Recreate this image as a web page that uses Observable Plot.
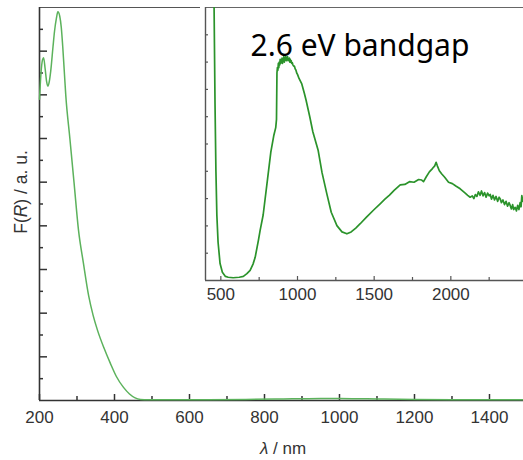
<!DOCTYPE html>
<html>
<head>
<meta charset="utf-8">
<script src="https://cdn.jsdelivr.net/npm/d3@7"></script>
<script src="https://cdn.jsdelivr.net/npm/@observablehq/plot@0.6"></script>
<style>
  html, body { margin: 0; padding: 0; background: white; }
  #wrap { position: relative; width: 523px; height: 460px; overflow: hidden; background: white; }
  #inset { position: absolute; left: 200px; top: 0px; width: 342px; }
  #wrap svg { max-width: none !important; }
</style>
</head>
<body>
<div id="wrap"><div id="main"></div><div id="inset"></div></div>
<script>
// ---------- Main spectrum (F(R) vs wavelength, 200–1490 nm) ----------
const mainWl = [200, 204, 208, 211, 215, 219, 222, 226, 230, 236, 240, 245, 249, 254, 258, 262, 266, 270,
  281, 292, 304, 317, 331, 343, 355, 372, 389, 405, 424, 440, 455, 469, 490, 550, 650, 750, 850, 900,
  950, 1000, 1050, 1100, 1200, 1300, 1400, 1490];
const mainF = [13.8, 15.0, 15.6, 15.7, 15.2, 14.6, 14.4, 14.6, 15.1, 16.2, 16.9, 17.5, 17.8, 17.6, 17.1, 16.2, 15.1, 14.0,
  12.0, 10.0, 7.8, 6.3, 4.8, 3.9, 3.2, 2.4, 1.7, 1.1, 0.6, 0.3, 0.12, 0.05, 0.03, 0.03, 0.04, 0.05, 0.07, 0.08,
  0.09, 0.09, 0.08, 0.07, 0.05, 0.04, 0.04, 0.04];

const mainXMajor = [200, 400, 600, 800, 1000, 1200, 1400];
const mainXMinor = [300, 500, 700, 900, 1100, 1300];
const mainYMajor = [2, 4, 6, 8, 10, 12, 14, 16];
const mainYMinor = [1, 3, 5, 7, 9, 11, 13, 15, 17];
const mainXDomain = [200, 1490.7];
const mainYDomain = [0, 18];

// ---------- Inset spectrum (400–2500 nm) ----------
const insetWl = [440, 452, 456, 462, 468, 474, 482, 495, 510, 530, 548, 580, 620, 647, 670, 691, 710, 724, 745, 756,
  776, 800, 826, 845, 858, 863, 866, 869, 872, 875, 878, 881, 884, 887, 890, 893, 896, 899, 902, 905, 908, 911, 914,
  917, 920, 923, 926, 929, 932, 935, 938, 941, 944, 947, 950, 953, 956, 959, 962, 966, 970, 975, 980, 985, 990, 995,
  1000, 1010, 1028, 1045, 1056, 1080, 1100, 1135, 1160, 1191, 1220, 1257, 1290, 1322, 1350, 1380, 1409, 1450, 1500,
  1539, 1570, 1600, 1630, 1670, 1700, 1730, 1760, 1790, 1810, 1822, 1840, 1860, 1880, 1895, 1904, 1912, 1925, 1941,
  1960, 1985, 2010, 2035, 2061, 2090, 2110, 2126, 2140, 2150, 2160, 2170, 2180, 2191, 2200, 2210, 2220, 2230, 2240,
  2250, 2257, 2265, 2275, 2285, 2295, 2305, 2315, 2322, 2330, 2340, 2350, 2360, 2370, 2380, 2387, 2395, 2403, 2410,
  2420, 2428, 2436, 2444, 2452, 2458, 2463, 2470, 2480, 2500];
const insetF = [14, 11, 10, 6.5, 4.0, 2.4, 1.4, 0.62, 0.3, 0.15, 0.12, 0.1, 0.12, 0.15, 0.25, 0.37, 0.6, 0.85, 1.47, 1.83,
  2.4, 3.5, 4.7, 5.3, 5.6, 5.9, 7.6, 7.8, 7.7, 7.95, 7.8, 8.0, 7.9, 8.1, 7.95, 8.05, 8.0, 8.15, 7.95, 8.1, 8.05, 8.2, 8.0,
  8.15, 8.1, 8.2, 8.05, 8.15, 8.1, 8.2, 8.05, 8.12, 8.08, 8.15, 8.0, 8.1, 8.0, 8.05, 7.95, 7.98, 7.9, 7.85, 7.85, 7.75, 7.7, 7.6,
  7.55, 7.4, 7.2, 6.85, 6.6, 6.0, 5.45, 4.76, 3.95, 3.18, 2.5, 2.01, 1.78, 1.71, 1.78, 1.92, 2.08, 2.32, 2.6,
  2.81, 2.98, 3.13, 3.3, 3.5, 3.52, 3.62, 3.6, 3.7, 3.68, 3.62, 3.8, 3.98, 4.1, 4.2, 4.33, 4.2, 4.02, 3.9,
  3.78, 3.6, 3.55, 3.45, 3.36, 3.22, 3.12, 3.05, 3.1, 3.0, 3.15, 3.08, 3.25, 3.12, 3.28, 3.1, 3.22, 3.05, 3.2,
  3.1, 3.15, 2.98, 3.12, 2.95, 3.08, 2.9, 3.05, 2.99, 2.85, 2.95, 2.78, 2.9, 2.72, 2.85, 2.75, 2.62, 2.78, 2.6,
  2.68, 2.55, 2.75, 2.6, 2.85, 2.7, 3.11, 2.9, 3.15, 3.2];

const insetXMajor = [500, 1000, 1500, 2000, 2500];
const insetXMinor = [750, 1250, 1750, 2250];
const insetXLabels = [500, 1000, 1500, 2000];
const insetYTicks = [1, 2, 3, 4, 5, 6, 7, 8, 9];
const insetXDomain = [400, 2500];
const insetYDomain = [0, 10];

const xTitle = ["λ", " / nm"];
const yTitle = ["F(", "R", ") / a. u."];
const annotation = "2.6 eV bandgap";

// ---------- Layout ----------
const FONT = "Liberation Sans, Arial, Helvetica, sans-serif";
const W = 523, H = 460;
const mM = {top: 7, right: 0, bottom: 60, left: 39};
const fW = W - mM.left - mM.right, fH = H - mM.top - mM.bottom;
const mainData = mainWl.map((w, i) => ({w, f: mainF[i]}));
const fmt = d3.format("d");

const main = Plot.plot({
  width: W, height: H,
  marginTop: mM.top, marginRight: mM.right, marginBottom: mM.bottom, marginLeft: mM.left,
  style: {fontFamily: FONT, background: "white", overflow: "visible", maxWidth: "none"},
  x: {domain: mainXDomain, axis: null},
  y: {domain: mainYDomain, axis: null},
  marks: [
    Plot.ruleY([mainYDomain[1]], {stroke: "#555", strokeWidth: 1.2}),
    Plot.ruleX(mainXMajor, {stroke: "#333", strokeWidth: 1.5, insetTop: fH - 6}),
    Plot.ruleX(mainXMinor, {stroke: "#333", strokeWidth: 1.5, insetTop: fH - 4}),
    Plot.ruleY(mainYMajor, {stroke: "#333", strokeWidth: 1.5, insetRight: fW - 8}),
    Plot.ruleY(mainYMinor, {stroke: "#333", strokeWidth: 1.5, insetRight: fW - 4}),
    Plot.ruleY([mainYDomain[0]], {stroke: "#333", strokeWidth: 1.6}),
    Plot.ruleX([mainXDomain[0]], {stroke: "#333", strokeWidth: 1.6}),
    Plot.line(mainData, {x: "w", y: "f", stroke: "#5cb25c", strokeWidth: 1.5, curve: "monotone-x"}),
    Plot.axisX(mainXMajor, {tickSize: 0, tickPadding: 10, fontSize: 17, fill: "#333", label: null, tickFormat: fmt})
  ]
});
document.getElementById("main").appendChild(main);

// axis titles (mixed italic)
const svg = d3.select(main);
const xt = svg.append("text")
  .attr("x", 283).attr("y", 454)
  .attr("text-anchor", "middle")
  .attr("font-family", FONT).attr("font-size", 17).attr("fill", "#333");
xt.append("tspan").attr("font-style", "italic").text(xTitle[0]);
xt.append("tspan").text(xTitle[1]);

const yt = svg.append("text")
  .attr("transform", "translate(27,192) rotate(-90)")
  .attr("text-anchor", "middle")
  .attr("font-family", FONT).attr("font-size", 17.5).attr("fill", "#333");
yt.append("tspan").text(yTitle[0]);
yt.append("tspan").attr("font-style", "italic").text(yTitle[1]);
yt.append("tspan").text(yTitle[2]);

// ---------- Inset ----------
const iM = {top: 7, right: 15, bottom: 30, left: 5};
const iW = 342, iH = 310;
const ifW = iW - iM.left - iM.right, ifH = iH - iM.top - iM.bottom;
const insetData = insetWl.map((w, i) => ({w, f: insetF[i]}));

const inset = Plot.plot({
  width: iW, height: iH,
  marginTop: iM.top, marginRight: iM.right, marginBottom: iM.bottom, marginLeft: iM.left,
  style: {fontFamily: FONT, background: "white", overflow: "visible", maxWidth: "none"},
  x: {domain: insetXDomain, axis: null},
  y: {domain: insetYDomain, axis: null},
  marks: [
    Plot.ruleY([insetYDomain[1]], {stroke: "#666", strokeWidth: 1.2}),
    Plot.ruleX(insetXMajor, {stroke: "#555", strokeWidth: 1.2, insetTop: ifH - 4}),
    Plot.ruleX(insetXMinor, {stroke: "#555", strokeWidth: 1.2, insetTop: ifH - 3}),
    Plot.ruleY(insetYTicks, {stroke: "#555", strokeWidth: 1.2, insetRight: ifW - 3}),
    Plot.ruleY([insetYDomain[0]], {stroke: "#555", strokeWidth: 1.4}),
    Plot.ruleX([insetXDomain[0]], {stroke: "#555", strokeWidth: 1.4}),
    Plot.line(insetData, {x: "w", y: "f", stroke: "#2b932b", strokeWidth: 1.7, clip: true}),
    Plot.axisX(insetXLabels, {tickSize: 0, tickPadding: 7, fontSize: 17, fill: "#333", label: null, tickFormat: fmt}),
    Plot.text([annotation], {frameAnchor: "top-left", dx: 45, dy: 48, lineAnchor: "bottom",
      textAnchor: "start", fontSize: 30, fontFamily: "Noto Sans, Lato, sans-serif", fill: "#000"})
  ]
});
document.getElementById("inset").appendChild(inset);
</script>
</body>
</html>
